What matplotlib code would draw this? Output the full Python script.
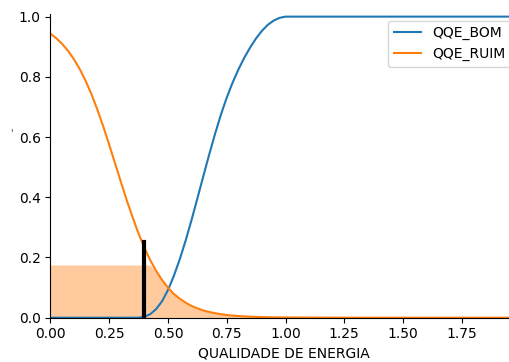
import numpy as np
import matplotlib
matplotlib.use("Agg")
import matplotlib.pyplot as plt

# universe samples for "qualidade de energia"
qualidade = [0.0, 0.025, 0.05, 0.075, 0.1, 0.125, 0.15, 0.175, 0.2, 0.225,
             0.25, 0.275, 0.3, 0.325, 0.35, 0.375, 0.4, 0.425, 0.45, 0.475,
             0.5, 0.525, 0.55, 0.575, 0.6, 0.625, 0.65, 0.675, 0.7, 0.725,
             0.75, 0.775, 0.8, 0.825, 0.85, 0.875, 0.9, 0.925, 0.95, 0.975,
             1.0, 1.25, 1.5, 1.75, 1.99]

qqe_bom = [0.0, 0.0, 0.0, 0.0, 0.0, 0.0, 0.0, 0.0, 0.0, 0.0,
           0.0, 0.0, 0.0, 0.0, 0.0, 0.0, 0.003, 0.012, 0.029, 0.055,
           0.092, 0.139, 0.194, 0.256, 0.324, 0.396, 0.469, 0.541, 0.610, 0.674,
           0.731, 0.781, 0.825, 0.864, 0.898, 0.928, 0.953, 0.973, 0.987, 0.996,
           1.0, 1.0, 1.0, 1.0, 1.0]

qqe_ruim = [0.943, 0.928, 0.909, 0.886, 0.858, 0.825, 0.786, 0.741, 0.690, 0.634,
            0.574, 0.512, 0.450, 0.389, 0.332, 0.279, 0.231, 0.190, 0.155, 0.125,
            0.0997, 0.079, 0.063, 0.050, 0.039, 0.031, 0.024, 0.019, 0.015, 0.0115,
            0.009, 0.007, 0.0055, 0.0043, 0.0033, 0.0026, 0.002, 0.0016, 0.0012, 0.001,
            0.0007, 0.0001, 0.0, 0.0, 0.0]

ativacao = 0.175      # activation level of QQE_RUIM
saida = 0.4           # crisp value
saida_grau = 0.25     # membership at the crisp value

fig = plt.figure(figsize=(5.1, 3.62), dpi=100)
ax = fig.add_axes([0.099, 0.1224, 0.917, 0.840])

x = np.array(qualidade)
bom = np.array(qqe_bom)
ruim = np.array(qqe_ruim)

ax.plot(x, bom, color="C0", lw=1.5, label="QQE_BOM")
ax.plot(x, ruim, color="C1", lw=1.5, label="QQE_RUIM")
ax.fill_between(x, 0, np.fmin(ruim, ativacao), color="C1", alpha=0.4, lw=0)
ax.plot([saida, saida], [0, saida_grau], color="k", lw=3)

ax.set_xlim(0, 1.99)
ax.set_ylim(0, 1.01)
ax.set_xticks([0.0, 0.25, 0.5, 0.75, 1.0, 1.25, 1.5, 1.75])
ax.set_xticklabels(["0.00", "0.25", "0.50", "0.75", "1.00", "1.25", "1.50", "1.75"])
ax.set_yticks([0.0, 0.2, 0.4, 0.6, 0.8, 1.0])
ax.set_xlabel("QUALIDADE DE ENERGIA")
ax.spines["top"].set_visible(False)
ax.spines["right"].set_visible(False)
ax.legend(loc="upper right")

fig.text(11 / 510, 1 - 133 / 362, "'", fontsize=7, color="#333333",
         ha="center", va="center")

fig.savefig("out.png", dpi=100)
